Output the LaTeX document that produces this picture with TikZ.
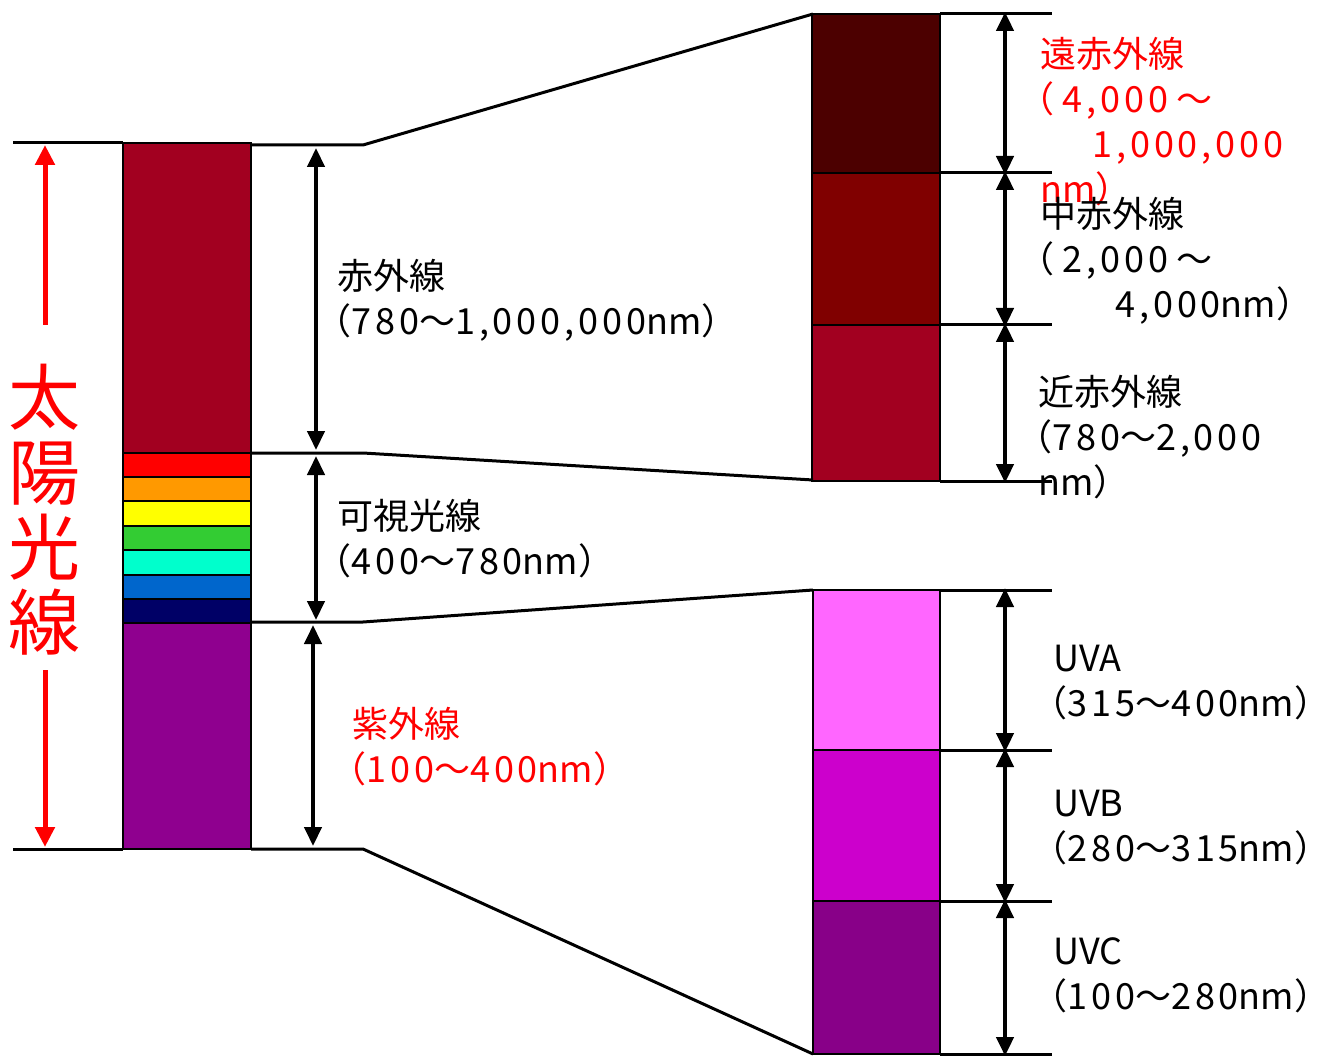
\documentclass[tikz,border=0pt]{standalone}
\usepackage{fontspec}
\setmainfont{Noto Sans CJK JP}
\newfontfamily\latsp[LetterSpace=11]{Noto Sans CJK JP}
\newcommand\Lat[1]{{\latsp #1}}
\newcommand\Lpar{\kern-22pt （}
\newcommand\Rpar{）\kern-20pt}
\usetikzlibrary{arrows.meta}
\definecolor{irc}{HTML}{A20020}
\definecolor{vred}{HTML}{FF0000}
\definecolor{vorange}{HTML}{FF9900}
\definecolor{vyellow}{HTML}{FFFF00}
\definecolor{vgreen}{HTML}{33CC33}
\definecolor{vcyan}{HTML}{00FFCC}
\definecolor{vblue}{HTML}{0066CC}
\definecolor{vnavy}{HTML}{000066}
\definecolor{uvc}{HTML}{8F008F}
\definecolor{farir}{HTML}{4C0000}
\definecolor{midir}{HTML}{800000}
\definecolor{uvaC}{HTML}{FF66FF}
\definecolor{uvbC}{HTML}{CC00CC}
\definecolor{uvcC}{HTML}{880088}
\begin{document}
\begin{tikzpicture}[x=1pt,y=-1pt,
  band/.style={draw=black,line width=1.5pt},
  edge/.style={line width=3pt,line join=round},
  dim/.style={line width=4.5pt,{Triangle[width=17pt,length=19pt]}-{Triangle[width=17pt,length=19pt]}},
  sunarrow/.style={draw=red,line width=5pt,-{Triangle[width=19pt,length=20pt]}},
  lbl/.style={anchor=north west,inner sep=0pt,align=left,font=\fontsize{36}{45}\selectfont},
  redlbl/.style={lbl,text=red}]
\useasboundingbox (0,0) rectangle (1333,1056);

% ---------- left bar ----------
\foreach \t/\b/\c in {143/453/irc,453/477/vred,477/501/vorange,501/526/vyellow,526/550/vgreen,550/575/vcyan,575/599/vblue,599/623/vnavy,623/849/uvc}
  \filldraw[band,fill=\c] (123,\t) rectangle (251,\b);

% ---------- right bars ----------
\foreach \t/\b/\c in {14/173/farir,173/325/midir,325/481/irc}
  \filldraw[band,fill=\c] (812,\t) rectangle (940,\b);
\foreach \t/\b/\c in {590/750/uvaC,750/901/uvbC,901/1054/uvcC}
  \filldraw[band,fill=\c] (813,\t) rectangle (940,\b);

% ---------- coordinates ----------
\coordinate (LT1) at (13,143);   \coordinate (LT2) at (123,143);
\coordinate (LB1) at (13,849);   \coordinate (LB2) at (123,849);
\coordinate (A1) at (251,145);   \coordinate (A2) at (363,145);  \coordinate (A3) at (813,14);
\coordinate (B1) at (251,453);   \coordinate (B2) at (363,453);  \coordinate (B3) at (813,480);
\coordinate (C1) at (251,622);   \coordinate (C2) at (363,622);  \coordinate (C3) at (813,590);
\coordinate (D1) at (251,849);   \coordinate (D2) at (363,849);  \coordinate (D3) at (813,1054);
\foreach \n/\y in {r1/14,r2/173,r3/325,r4/481,u1/590,u2/750,u3/901,u4/1054}{
  \coordinate (\n a) at (940,\y); \coordinate (\n b) at (1052,\y); \coordinate (\n m) at (1005,\y);}

% ---------- guide lines ----------
\draw[edge] (LT1) -- (LT2);
\draw[edge] (LB1) -- (LB2);
\draw[edge] (A1) -- (A2) -- (A3);
\draw[edge] (B1) -- (B2) -- (B3);
\draw[edge] (C1) -- (C2) -- (C3);
\draw[edge] (D1) -- (D2) -- (D3);
\foreach \n in {r1,r2,r3,r4,u1,u2,u3,u4} \draw[edge] (\n a) -- (\n b);

% ---------- dimension arrows (left) ----------
\coordinate (da1) at (316,148); \coordinate (da2) at (316,450);
\coordinate (db1) at (316,456); \coordinate (db2) at (316,620);
\coordinate (dc1) at (313,625); \coordinate (dc2) at (313,846);
\draw[dim] (da1) -- (da2);
\draw[dim] (db1) -- (db2);
\draw[dim] (dc1) -- (dc2);

% ---------- dimension arrows (right) ----------
\draw[dim] ([yshift=2pt]r1m) -- ([yshift=-2pt]r2m);
\draw[dim] ([yshift=2pt]r2m) -- ([yshift=-2pt]r3m);
\draw[dim] ([yshift=2pt]r3m) -- ([yshift=-2pt]r4m);
\draw[dim] ([yshift=2pt]u1m) -- ([yshift=-2pt]u2m);
\draw[dim] ([yshift=2pt]u2m) -- ([yshift=-2pt]u3m);
\draw[dim] ([yshift=2pt]u3m) -- ([yshift=-2pt]u4m);

% ---------- sunlight arrow ----------
\node[text=red,align=center,inner sep=0pt,font=\fontsize{72}{75}\selectfont] (sun) at (45,510) {太\\陽\\光\\線};
\coordinate (su1) at (45,325); \coordinate (su2) at (45,145);
\coordinate (sd1) at (45,670); \coordinate (sd2) at (45,847);
\draw[sunarrow] (su1) -- (su2);
\draw[sunarrow] (sd1) -- (sd2);

% ---------- labels ----------
\node[lbl] (ir) at (337,259) {赤外線\\\Lpar\Lat{780}～\Lat{1,000,000}nm\Rpar};
\node[lbl] (vis) at (337,499) {可視光線\\\Lpar\Lat{400}～\Lat{780}nm\Rpar};
\node[redlbl] (uv) at (352,707) {紫外線\\\Lpar\Lat{100}～\Lat{400}nm\Rpar};

\node[redlbl] (fir) at (1040,37) {遠赤外線\\\Lpar\ \Lat{4,000} ～\\\hspace*{52pt}\Lat{1,000,000}\\nm\Rpar};
\node[lbl] (mir) at (1040,197) {中赤外線\\\Lpar\ \Lat{2,000} ～\\\hspace*{75pt}\Lat{4,000}nm\Rpar};
\node[lbl] (nir) at (1038,375) {近赤外線\\\Lpar\Lat{780}～\Lat{2,000}\\nm\Rpar};

\node[lbl] (uva) at (1053,645) {UVA\\\Lpar\Lat{315}～\Lat{400}nm\Rpar};
\node[lbl] (uvb) at (1053,790) {UVB\\\Lpar\Lat{280}～\Lat{315}nm\Rpar};
\node[lbl] (uvcl) at (1053,937) {UVC\\\Lpar\Lat{100}～\Lat{280}nm\Rpar};
\end{tikzpicture}
\end{document}
